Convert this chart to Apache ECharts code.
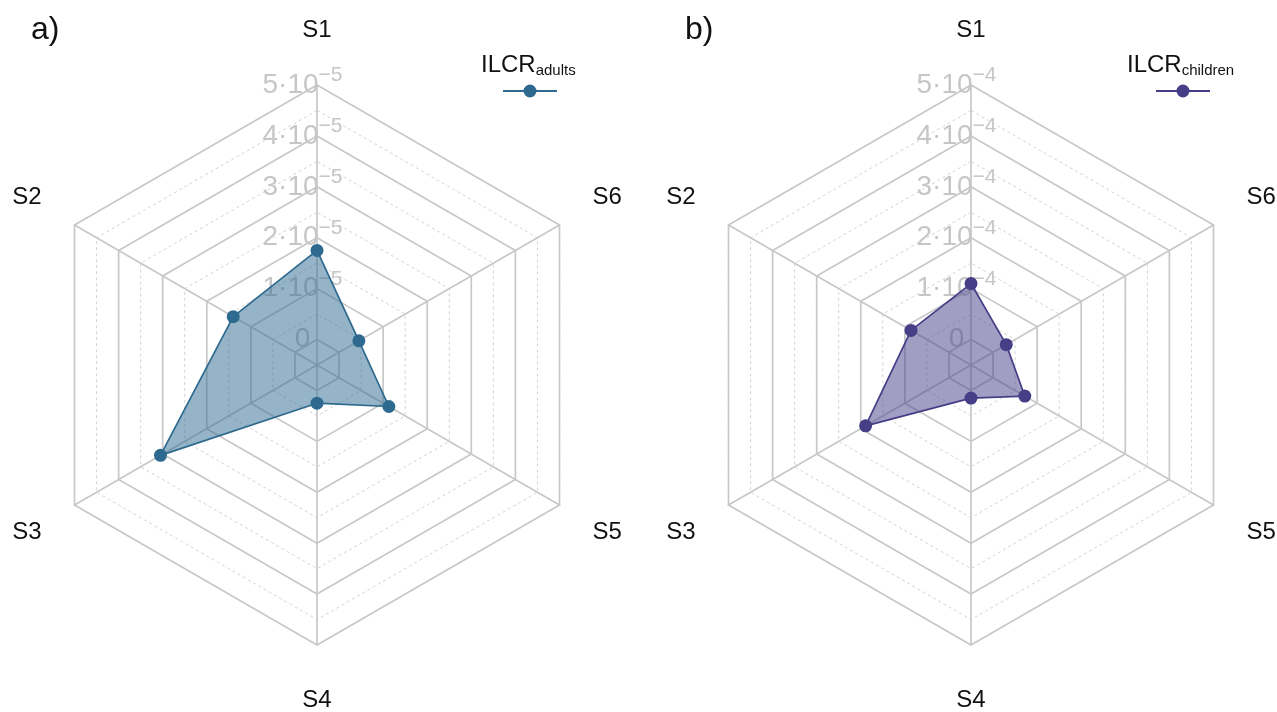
<!DOCTYPE html>
<html><head><meta charset="utf-8">
<script src="https://cdn.jsdelivr.net/npm/echarts@6/dist/echarts.min.js"></script>
<style>html,body{margin:0;padding:0;background:#fff}#c{width:1277px;height:712px}</style>
</head><body><div id="c"></div>
<script>
// ---- data ----
const categories = ['S1', 'S2', 'S3', 'S4', 'S5', 'S6'];
const ilcrAdults = [1.75e-5, 1.40e-5, 3.05e-5, 0.25e-5, 1.13e-5, 0.45e-5];
const ilcrChildren = [1.10e-4, 0.86e-4, 1.89e-4, 0.15e-4, 0.72e-4, 0.30e-4];
const adultsRange = [-0.5e-5, 5e-5];
const childrenRange = [-0.5e-4, 5e-4];
const adultsExp = 5;
const childrenExp = 4;
const panelLabels = ['a)', 'b)'];
const seriesNames = ['ILCR adults', 'ILCR children'];
const subNames = ['adults', 'children'];

const FONT = 'Liberation Sans, Arial, sans-serif';
const GRID = '#c8c8c8';

function tickFormatter(exp) {
  return function (v) {
    const u = v * Math.pow(10, exp);
    const r = Math.round(u);
    if (Math.abs(u - r) > 1e-6 || r < 0) return '';
    if (r === 0) return '{m|0}';
    return '{m|' + r + '·10}{s|−' + exp + '}';
  };
}

function radarPair(center, range, exp) {
  const transparent = 'rgba(0,0,0,0)';
  const areaColors = [transparent, '#ffffff'];
  for (let i = 0; i < 10; i++) areaColors.push(transparent);
  const solid = {
    center: center, radius: 280, startAngle: 90, shape: 'polygon', splitNumber: 11,
    indicator: categories.map((c, i) => ({ name: c, min: range[0], max: range[1], axisLabel: { show: i === 0 } })),
    axisName: { show: true, color: '#111', fontSize: 24, fontFamily: FONT, align: 'center', verticalAlign: 'middle' },
    axisNameGap: 55,
    axisLine: { show: true, lineStyle: { color: GRID, width: 1.7 } },
    axisTick: { show: false },
    axisLabel: {
      show: false, formatter: tickFormatter(exp), align: 'center', verticalAlign: 'middle', margin: 14.5,
      rich: {
        m: { fontSize: 28, lineHeight: 40, color: '#c6c6c6', fontFamily: FONT },
        s: { fontSize: 21, lineHeight: 20, verticalAlign: 'top', color: '#c6c6c6', fontFamily: FONT }
      }
    },
    splitLine: { show: true, lineStyle: { color: [transparent, GRID], width: 1.7 } },
    splitArea: { show: true, areaStyle: { color: areaColors } }
  };
  const dashed = {
    center: center, radius: 280, startAngle: 90, shape: 'polygon', splitNumber: 11,
    indicator: categories.map(c => ({ name: c, min: range[0], max: range[1] })),
    axisName: { show: false },
    axisLine: { show: false }, axisTick: { show: false }, axisLabel: { show: false },
    splitLine: { show: true, lineStyle: { color: ['#d4d4d4', transparent], width: 1, type: [3, 3] } },
    splitArea: { show: false }
  };
  return [solid, dashed];
}

const colors = ['#2e6a8f', '#463e87'];
const ICON = 'path://M0,5.5 L54,5.5 L54,7.5 L0,7.5 Z M33.5,6.5 A6.5,6.5 0 1 1 20.5,6.5 A6.5,6.5 0 1 1 33.5,6.5 Z';

const chart = echarts.init(document.getElementById('c'), null, { renderer: 'canvas' });
const radars = radarPair([317, 365], adultsRange, adultsExp).concat(radarPair([971, 365], childrenRange, childrenExp));

function seriesFor(idx, radarIndex, values) {
  return {
    type: 'radar', radarIndex: radarIndex, name: seriesNames[idx],
    symbol: 'circle', symbolSize: 13,
    lineStyle: { color: colors[idx], width: 1.7 },
    itemStyle: { color: colors[idx] },
    areaStyle: { color: colors[idx], opacity: 0.5 },
    data: [{ value: values, name: seriesNames[idx] }]
  };
}

function subTitle(sub, left) {
  return {
    text: '{m|ILCR}{s|' + sub + '}', left: left, top: 52, padding: 0,
    textStyle: {
      rich: {
        m: { fontSize: 24, lineHeight: 26, fontWeight: 'normal', color: '#111', fontFamily: FONT },
        s: { fontSize: 15, lineHeight: 8, fontWeight: 'normal', verticalAlign: 'bottom', color: '#111', fontFamily: FONT }
      }
    }
  };
}

const option = {
  animation: false,
  backgroundColor: '#fff',
  title: [
    { text: panelLabels[0], left: 31, top: 14, padding: 0, textStyle: { fontSize: 32, fontWeight: 'normal', color: '#111', fontFamily: FONT } },
    { text: panelLabels[1], left: 685, top: 14, padding: 0, textStyle: { fontSize: 32, fontWeight: 'normal', color: '#111', fontFamily: FONT } },
    subTitle(subNames[0], 481),
    subTitle(subNames[1], 1127)
  ],
  legend: [
    { data: [seriesNames[0]], left: 503, top: 84.5, padding: 0, icon: ICON, itemWidth: 54, itemHeight: 13, formatter: () => '', selectedMode: false },
    { data: [seriesNames[1]], left: 1156, top: 84.5, padding: 0, icon: ICON, itemWidth: 54, itemHeight: 13, formatter: () => '', selectedMode: false }
  ],
  radar: radars,
  series: [seriesFor(0, 0, ilcrAdults), seriesFor(1, 2, ilcrChildren)]
};
chart.setOption(option);
</script>
</body></html>
